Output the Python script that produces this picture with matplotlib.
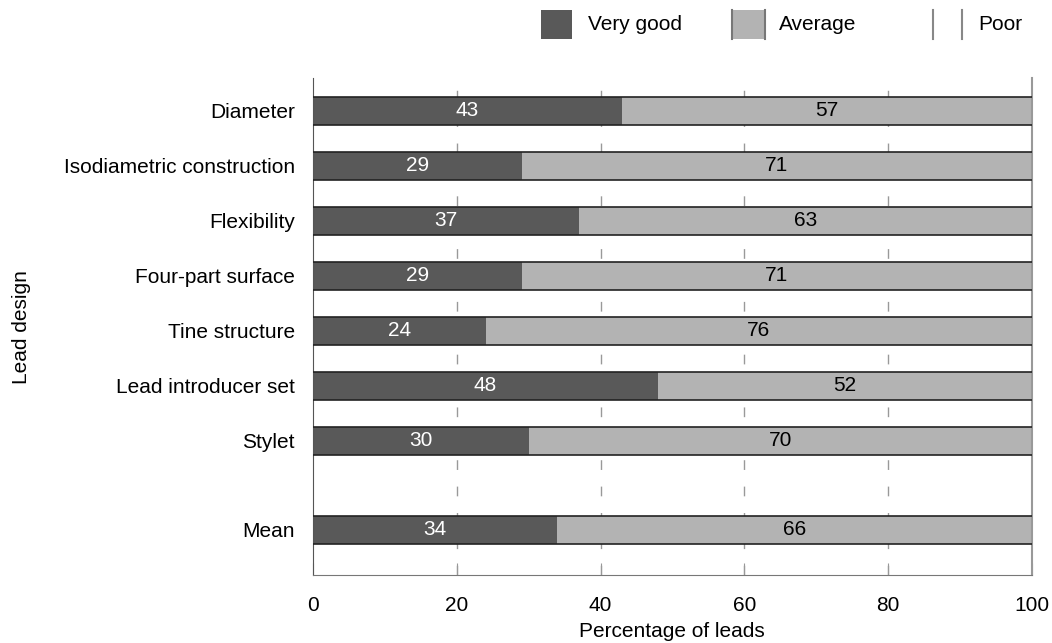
import matplotlib
matplotlib.use("Agg")
import matplotlib.pyplot as plt
from matplotlib.patches import Rectangle
from matplotlib.lines import Line2D

plt.rcParams['font.family'] = ['Liberation Sans', 'DejaVu Sans']

categories = ["Diameter", "Isodiametric construction", "Flexibility", "Four-part surface",
              "Tine structure", "Lead introducer set", "Stylet", "Mean"]
very_good = [43, 29, 37, 29, 24, 48, 30, 34]
average = [57, 71, 63, 71, 76, 52, 70, 66]
poor = [0, 0, 0, 0, 0, 0, 0, 0]
xticks = [0, 20, 40, 60, 80, 100]
positions = [0, 1, 2, 3, 4, 5, 6, 7.62]

W, H = 1052, 643
FS = 15
fig = plt.figure(figsize=(W / 100, H / 100), dpi=100)
ax = fig.add_axes([313 / W, 1 - 575 / H, (1032 - 313) / W, (575 - 78) / H])

dark = "#595959"
light = "#b3b3b3"
edge = "#222222"
bh = 0.51

for p, vg, av, po in zip(positions, very_good, average, poor):
    ax.barh(p, vg, height=bh, left=0, color=dark, edgecolor="none", zorder=2)
    ax.barh(p, av, height=bh, left=vg, color=light, edgecolor="none", zorder=2)
    ax.barh(p, po, height=bh, left=vg + av, color="white", edgecolor="none", zorder=2)
    ax.plot([0, 100], [p - bh / 2, p - bh / 2], color=edge, lw=1.2, zorder=3)
    ax.plot([0, 100], [p + bh / 2, p + bh / 2], color=edge, lw=1.2, zorder=3)
    ax.text(vg / 2, p, str(vg), color="white", ha="center", va="center", fontsize=FS, zorder=4)
    ax.text(vg + av / 2, p, str(av), color="black", ha="center", va="center", fontsize=FS, zorder=4)

ax.set_xlim(0, 100)
ax.set_ylim(positions[-1] + 0.82, -0.6)
ax.set_yticks(positions)
ax.set_yticklabels(categories, fontsize=FS)
ax.tick_params(axis='y', length=0, pad=13)
ax.set_xticks(xticks)
ax.set_xticklabels([str(t) for t in xticks], fontsize=FS)
ax.tick_params(axis='x', direction='in', length=9, color="#999999", pad=15)
for t in xticks[1:-1]:
    ax.axvline(t, color="#999999", lw=1, ls=(0, (7, 12)), zorder=1)

ax.spines['top'].set_visible(False)
ax.spines['left'].set_color("#555555")
ax.spines['bottom'].set_color("#777777")
ax.spines['right'].set_color("#999999")
ax.spines['right'].set_linewidth(1.5)


def fx(x):
    return x / W


def fy(y):
    return 1 - y / H


fig.text(fx(672), fy(637), "Percentage of leads", fontsize=FS, ha="center", va="baseline")
fig.text(fx(22), fy(327), "Lead design", rotation=90, ha="center", va="center", fontsize=FS)

# legend
fig.add_artist(Rectangle((fx(541), fy(39)), fx(572) - fx(541), fy(10) - fy(39),
                         facecolor=dark, edgecolor="none", transform=fig.transFigure))
fig.text(fx(588), fy(24), "Very good", fontsize=FS, va="center", ha="left")
fig.add_artist(Rectangle((fx(732), fy(39)), fx(765) - fx(732), fy(10) - fy(39),
                         facecolor=light, edgecolor="none", transform=fig.transFigure))
for xx in (732, 765):
    fig.add_artist(Line2D([fx(xx), fx(xx)], [fy(39), fy(10)], color="#777777", lw=1.5,
                          transform=fig.transFigure))
fig.text(fx(779), fy(24), "Average", fontsize=FS, va="center", ha="left")
for xx in (933, 962):
    fig.add_artist(Line2D([fx(xx), fx(xx)], [fy(39), fy(10)], color="#888888", lw=1.5,
                          transform=fig.transFigure))
fig.text(fx(978), fy(24), "Poor", fontsize=FS, va="center", ha="left")

fig.savefig("out.png", dpi=100)
